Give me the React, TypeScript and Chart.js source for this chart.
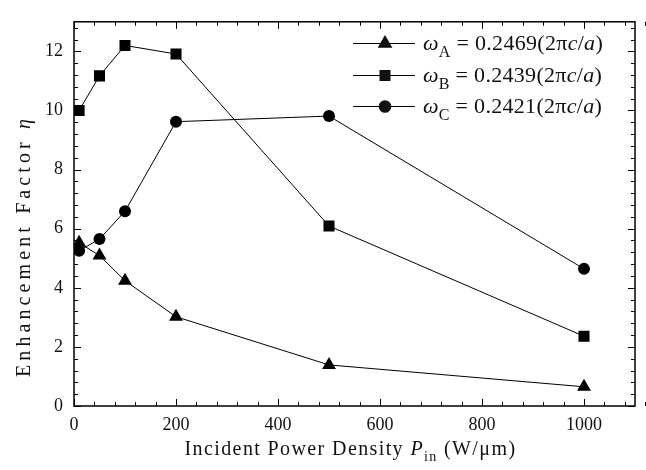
import React, { useEffect, useRef } from "react";
import { Chart, registerables } from "chart.js";

Chart.register(...registerables);

// ---- data ----
const powerDensity = [10, 50, 100, 200, 500, 1000];
const etaA = [5.52, 5.09, 4.24, 3.02, 1.39, 0.65];
const etaB = [10.0, 11.17, 12.2, 11.91, 6.09, 2.36];
const etaC = [5.25, 5.65, 6.59, 9.62, 9.81, 4.64];

const seriesSubs = ["A", "B", "C"];
const seriesFreqs = ["0.2469", "0.2439", "0.2421"];
const seriesStyles = ["triangle", "rect", "circle"];

const xMin = 0;
const xMax = 1100;
const xMajor = 200;
const xMinor = 40;
const yMin = 0;
const yMax = 13;
const yMajor = 2;
const yMinor = 0.4;

const SERIF = "'Liberation Serif', 'Times New Roman', serif";

type Seg = { t: string; italic?: boolean; sub?: boolean };

function segFont(s: Seg, size: number) {
  const sz = s.sub ? Math.round(size * 0.72) : size;
  return `${s.italic ? "italic " : ""}${sz}px ${SERIF}`;
}

function measureSegs(ctx: CanvasRenderingContext2D, segs: Seg[], size: number) {
  let w = 0;
  for (const s of segs) {
    ctx.font = segFont(s, size);
    w += ctx.measureText(s.t).width;
  }
  return w;
}

function drawSegs(ctx: CanvasRenderingContext2D, segs: Seg[], size: number, x: number, y: number) {
  let cx = x;
  ctx.textBaseline = "alphabetic";
  ctx.textAlign = "left";
  for (const s of segs) {
    ctx.font = segFont(s, size);
    ctx.fillText(s.t, cx, s.sub ? y + size * 0.3 : y);
    cx += ctx.measureText(s.t).width;
  }
  return cx - x;
}

function fitSpacing(ctx: CanvasRenderingContext2D, segs: Seg[], size: number, target: number) {
  (ctx as any).letterSpacing = "0px";
  const w0 = measureSegs(ctx, segs, size);
  const n = segs.reduce((a, s) => a + s.t.length, 0);
  const sp = Math.max(0, (target - w0) / n);
  (ctx as any).letterSpacing = `${sp.toFixed(2)}px`;
  return measureSegs(ctx, segs, size);
}

function drawMarker(ctx: CanvasRenderingContext2D, style: string, x: number, y: number) {
  ctx.beginPath();
  if (style === "triangle") {
    const r = 8.5;
    ctx.moveTo(x, y - r);
    ctx.lineTo(x + r * Math.sin((2 * Math.PI) / 3), y - r * Math.cos((2 * Math.PI) / 3));
    ctx.lineTo(x + r * Math.sin((4 * Math.PI) / 3), y - r * Math.cos((4 * Math.PI) / 3));
    ctx.closePath();
  } else if (style === "rect") {
    const h = 5.5;
    ctx.rect(x - h, y - h, 2 * h, 2 * h);
  } else {
    ctx.arc(x, y, 6.3, 0, Math.PI * 2);
  }
  ctx.fill();
}

const framePlugin = {
  id: "framePlugin",
  afterDraw(chart: any) {
    const { ctx, chartArea } = chart;
    const { left, right, top, bottom } = chartArea;
    const xs = chart.scales.x;
    const ys = chart.scales.y;
    ctx.save();
    ctx.fillStyle = "#111";
    ctx.strokeStyle = "#000";

    // ticks
    ctx.lineWidth = 1;
    ctx.beginPath();
    const nX = Math.round((xMax - xMin) / xMinor);
    for (let i = 0; i <= nX; i++) {
      const v = xMin + i * xMinor;
      const isMajor = Math.abs(v / xMajor - Math.round(v / xMajor)) < 1e-6;
      const len = isMajor ? 7 : 4;
      const px = Math.round(xs.getPixelForValue(v)) + 0.5;
      ctx.moveTo(px, bottom);
      ctx.lineTo(px, bottom - len);
      ctx.moveTo(px, top);
      ctx.lineTo(px, top + len);
    }
    const nY = Math.round((yMax - yMin) / yMinor);
    for (let i = 0; i <= nY; i++) {
      const v = yMin + i * yMinor;
      if (v > yMax + 1e-9) break;
      const isMajor = Math.abs(v / yMajor - Math.round(v / yMajor)) < 1e-6;
      const len = isMajor ? 7 : 4;
      const py = Math.round(ys.getPixelForValue(v)) + 0.5;
      ctx.moveTo(left, py);
      ctx.lineTo(left + len, py);
      ctx.moveTo(right, py);
      ctx.lineTo(right - len, py);
    }
    ctx.stroke();

    // frame
    ctx.lineWidth = 1.5;
    ctx.strokeRect(left, top, right - left, bottom - top);

    // x title
    const xt: Seg[] = [
      { t: "Incident Power Density " },
      { t: "P", italic: true },
      { t: "in", sub: true },
      { t: " (W/\u03bcm)" },
    ];
    const fs = 20;
    const xw = fitSpacing(ctx, xt, fs, 332);
    drawSegs(ctx, xt, fs, (left + right) / 2 - xw / 2 - 4, 455);

    // y title
    const yt: Seg[] = [{ t: "Enhancement Factor " }, { t: "\u03b7", italic: true }];
    const yw = fitSpacing(ctx, yt, fs, 262);
    ctx.save();
    ctx.translate(30, 246);
    ctx.rotate(-Math.PI / 2);
    drawSegs(ctx, yt, fs, -yw / 2, 0);
    ctx.restore();
    (ctx as any).letterSpacing = "0px";

    // legend
    const rows = [43, 75, 106];
    for (let i = 0; i < 3; i++) {
      const y = rows[i];
      ctx.lineWidth = 1;
      ctx.beginPath();
      ctx.moveTo(353, y + 0.5);
      ctx.lineTo(415, y + 0.5);
      ctx.stroke();
      drawMarker(ctx, seriesStyles[i], 385, y + 0.5);
      const segs: Seg[] = [
        { t: "\u03c9", italic: true },
        { t: seriesSubs[i], sub: true },
        { t: ` = ${seriesFreqs[i]}(2\u03c0` },
        { t: "c", italic: true },
        { t: "/" },
        { t: "a", italic: true },
        { t: ")" },
      ];
      (ctx as any).letterSpacing = "0.3px";
      drawSegs(ctx, segs, 22, 423, y + 7);
      (ctx as any).letterSpacing = "0px";
    }
    ctx.restore();
  },
};

export default function App() {
  const ref = useRef<HTMLCanvasElement | null>(null);

  useEffect(() => {
    if (!ref.current) return;
    const mk = (vals: number[], style: string, radius: number) => ({
      data: powerDensity.map((x, i) => ({ x, y: vals[i] })),
      borderColor: "#000",
      backgroundColor: "#000",
      borderWidth: 1,
      pointStyle: style,
      pointRadius: radius,
      pointBorderWidth: 0,
      pointBackgroundColor: "#000",
      showLine: true,
      tension: 0,
    });
    const chart = new Chart(ref.current, {
      type: "scatter",
      data: {
        datasets: [
          { label: "A", ...mk(etaA, "triangle", 8) },
          { label: "B", ...mk(etaB, "rect", 7.8) },
          { label: "C", ...mk(etaC, "circle", 6) },
        ],
      } as any,
      options: {
        animation: false,
        responsive: true,
        maintainAspectRatio: false,
        devicePixelRatio: 1,
        layout: { padding: { top: 7, right: 11, left: 0, bottom: 0 } },
        plugins: { legend: { display: false }, tooltip: { enabled: false } },
        scales: {
          x: {
            type: "linear",
            min: xMin,
            max: xMax,
            grid: { display: false, drawTicks: false },
            border: { display: false },
            ticks: {
              stepSize: xMajor,
              includeBounds: false,
              padding: 8,
              color: "#111",
              font: { family: SERIF, size: 18 },
              maxRotation: 0,
              callback: (v: any) => String(v),
            },
            afterFit: (s: any) => {
              s.height = 64;
            },
          },
          y: {
            type: "linear",
            min: yMin,
            max: yMax,
            grid: { display: false, drawTicks: false },
            border: { display: false },
            ticks: {
              stepSize: yMajor,
              includeBounds: false,
              padding: 11,
              color: "#111",
              font: { family: SERIF, size: 18 },
              callback: (v: any) => String(v),
            },
            afterFit: (s: any) => {
              s.width = 74;
            },
          },
        },
      } as any,
      plugins: [framePlugin],
    });
    return () => chart.destroy();
  }, []);

  return (
    <div style={{ position: "absolute", left: 0, top: 0, width: 646, height: 470 }}>
      <canvas ref={ref} />
    </div>
  );
}
